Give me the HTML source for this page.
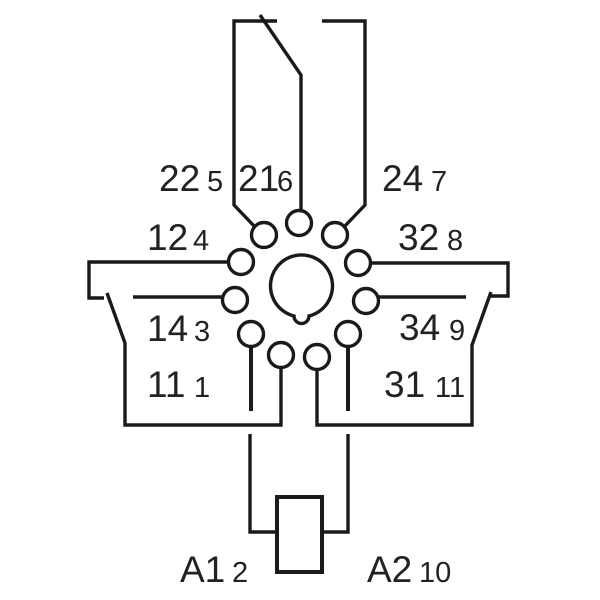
<!DOCTYPE html>
<html><head><meta charset="utf-8"><style>
html,body{margin:0;padding:0;background:#fff;}
svg{display:block;}
text{font-family:"Liberation Sans",sans-serif;fill:#222;}
.b{font-size:37px;}
.s{font-size:29px;}
</style></head><body>
<svg width="600" height="600" viewBox="0 0 600 600" xmlns="http://www.w3.org/2000/svg">
<g fill="none" stroke="#1a1a1a" stroke-width="3.4" stroke-linejoin="miter">
<polyline points="277,21 234,21 234,205 255,227"/>
<polyline points="260,15 301,75 301,210"/>
<polyline points="322,21 365,21 365,205 344,227"/>
<circle cx="264" cy="235" r="12.5"/>
<circle cx="299" cy="223" r="12.5"/>
<circle cx="335" cy="235" r="12.5"/>
<circle cx="241" cy="262" r="12.5"/>
<circle cx="358" cy="263" r="12.5"/>
<circle cx="235" cy="300" r="12.5"/>
<circle cx="366" cy="301" r="12.5"/>
<circle cx="251" cy="334" r="12.5"/>
<circle cx="348" cy="334" r="12.5"/>
<circle cx="281" cy="355" r="12.5"/>
<circle cx="317" cy="357" r="12.5"/>
<path d="M294,316 A31,31 0 1 1 309,316 A7,7 0 0 1 294,316 Z"/>
<polyline points="228.5,262 89,262 89,298 104,298"/>
<line x1="133" y1="297" x2="222.5" y2="297"/>
<polyline points="107,293 125,343 125,425 281,425 281,367.5"/>
<line x1="251" y1="346.5" x2="251" y2="411" stroke-width="4"/>
<polyline points="370.5,263 508,263 508,296 490,296"/>
<line x1="378.5" y1="297" x2="466" y2="297"/>
<polyline points="491,292 472,345 472,425 317,425 317,369.5"/>
<line x1="348" y1="346.5" x2="348" y2="411" stroke-width="4"/>
<polyline points="250,434 250,532 276,532"/>
<polyline points="348,434 348,532 323,532"/>
<rect x="277" y="497" width="45" height="75" stroke-width="4"/>
</g>
<text class="b" x="159" y="191">22</text><text class="s" x="207" y="191">5</text>
<text class="b" x="238" y="191">21</text><text class="s" x="277" y="191">6</text>
<text class="b" x="382" y="191">24</text><text class="s" x="431" y="191">7</text>
<text class="b" x="147" y="250">12</text><text class="s" x="193" y="250">4</text>
<text class="b" x="398" y="250">32</text><text class="s" x="447" y="250">8</text>
<text class="b" x="147" y="341">14</text><text class="s" x="194" y="341">3</text>
<text class="b" x="399" y="340">34</text><text class="s" x="449" y="340">9</text>
<text class="b" x="147" y="397">11</text><text class="s" x="194" y="397">1</text>
<text class="b" x="384" y="397">31</text><text class="s" x="435" y="397">11</text>
<text class="b" x="180" y="582">A1</text><text class="s" x="232" y="582">2</text>
<text class="b" x="367" y="582">A2</text><text class="s" x="419" y="582">10</text>
</svg>
</body></html>
